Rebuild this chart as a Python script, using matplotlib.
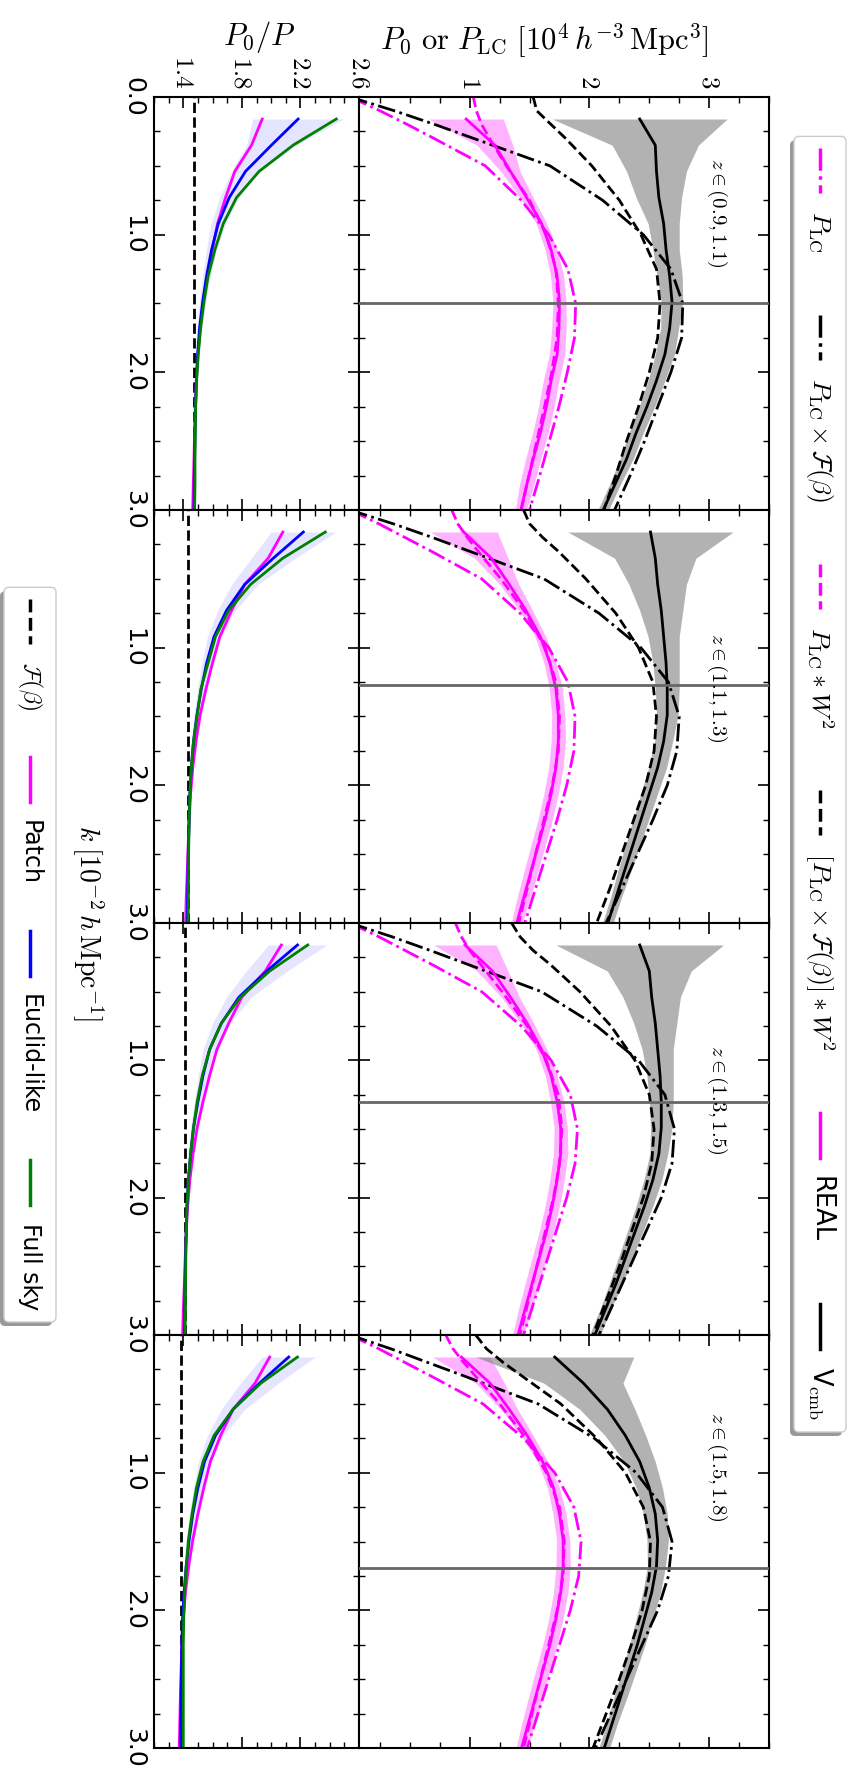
import numpy as np
import matplotlib
matplotlib.use('Agg')
import matplotlib.pyplot as plt
from matplotlib.lines import Line2D
from matplotlib.patches import FancyBboxPatch
from matplotlib.transforms import Affine2D
from matplotlib.ticker import MultipleLocator, FixedLocator

plt.rcParams['mathtext.fontset'] = 'cm'
plt.rcParams['font.family'] = ['DejaVu Sans']

W, H = 856, 1776

z_bins = [r'$z\in(0.9,1.1)$', r'$z\in(1.1,1.3)$', r'$z\in(1.3,1.5)$', r'$z\in(1.5,1.8)$']
z_text_y = [0.72, 0.57, 0.57, 0.68]
k_cut = [1.50, 1.27, 1.30, 1.69]

# theory curves, k in 1e-2 h/Mpc, P in 1e4 (Mpc/h)^3
k_model = [0.0, 0.1, 0.2, 0.3, 0.5, 0.75, 1.0, 1.25, 1.5, 1.75, 2.0, 2.25, 2.5, 2.75, 3.0]
plc = [
    [0.0, 0.25, 0.48, 0.70, 1.13, 1.43, 1.66, 1.82, 1.885, 1.875, 1.815, 1.745, 1.665, 1.585, 1.50],
    [0.0, 0.24, 0.46, 0.68, 1.10, 1.42, 1.66, 1.82, 1.88, 1.87, 1.81, 1.73, 1.64, 1.55, 1.46],
    [0.0, 0.24, 0.46, 0.68, 1.10, 1.43, 1.68, 1.84, 1.90, 1.88, 1.81, 1.72, 1.63, 1.54, 1.45],
    [0.0, 0.24, 0.46, 0.68, 1.11, 1.45, 1.71, 1.87, 1.93, 1.91, 1.84, 1.75, 1.66, 1.57, 1.48],
]
plc_f = [
    [0.0, 0.37, 0.71, 1.03, 1.67, 2.11, 2.45, 2.68, 2.78, 2.77, 2.68, 2.57, 2.46, 2.34, 2.21],
    [0.0, 0.36, 0.69, 1.00, 1.62, 2.08, 2.43, 2.66, 2.75, 2.73, 2.65, 2.53, 2.40, 2.27, 2.14],
    [0.0, 0.35, 0.67, 0.98, 1.60, 2.06, 2.41, 2.63, 2.71, 2.69, 2.60, 2.47, 2.34, 2.21, 2.08],
    [0.0, 0.34, 0.65, 0.96, 1.57, 2.04, 2.39, 2.61, 2.69, 2.66, 2.57, 2.44, 2.31, 2.18, 2.05],
]
plc_w = [
    [1.03, 1.055, 1.10, 1.165, 1.305, 1.50, 1.64, 1.72, 1.74, 1.73, 1.685, 1.625, 1.56, 1.495, 1.43],
    [0.85, 0.90, 0.98, 1.07, 1.26, 1.47, 1.63, 1.72, 1.75, 1.74, 1.69, 1.62, 1.55, 1.48, 1.41],
    [0.88, 0.93, 1.00, 1.09, 1.27, 1.48, 1.64, 1.74, 1.77, 1.75, 1.70, 1.63, 1.56, 1.49, 1.42],
    [0.80, 0.86, 0.95, 1.05, 1.25, 1.47, 1.64, 1.75, 1.79, 1.78, 1.73, 1.66, 1.59, 1.52, 1.45],
]
plc_fw = [
    [1.53, 1.56, 1.68, 1.80, 2.02, 2.25, 2.43, 2.56, 2.59, 2.57, 2.50, 2.41, 2.31, 2.22, 2.12],
    [1.45, 1.50, 1.61, 1.74, 1.97, 2.22, 2.41, 2.53, 2.56, 2.54, 2.47, 2.37, 2.27, 2.17, 2.06],
    [1.35, 1.42, 1.53, 1.67, 1.92, 2.18, 2.38, 2.50, 2.54, 2.52, 2.45, 2.35, 2.25, 2.14, 2.03],
    [1.05, 1.14, 1.28, 1.44, 1.76, 2.06, 2.30, 2.45, 2.51, 2.50, 2.44, 2.35, 2.25, 2.14, 2.03],
]

# measured spectra on the k bins
k_bins = [0.16, 0.35, 0.54, 0.73, 0.92, 1.11, 1.30, 1.49, 1.68, 1.87, 2.06, 2.25, 2.44, 2.63, 2.82, 3.01]
real = [
    [0.97, 1.21, 1.34, 1.475, 1.60, 1.68, 1.73, 1.75, 1.745, 1.73, 1.68, 1.64, 1.59, 1.53, 1.475, 1.425],
    [0.95, 1.18, 1.33, 1.47, 1.59, 1.67, 1.72, 1.74, 1.74, 1.72, 1.68, 1.63, 1.57, 1.51, 1.45, 1.39],
    [0.96, 1.19, 1.34, 1.48, 1.60, 1.68, 1.73, 1.76, 1.76, 1.73, 1.69, 1.64, 1.58, 1.52, 1.46, 1.40],
    [0.93, 1.17, 1.33, 1.48, 1.61, 1.70, 1.75, 1.78, 1.78, 1.76, 1.72, 1.67, 1.61, 1.55, 1.49, 1.43],
]
real_err = [
    [0.31, 0.15, 0.08, 0.055, 0.045, 0.05, 0.055, 0.055, 0.06, 0.065, 0.065, 0.065, 0.065, 0.063, 0.06, 0.045],
    [0.28, 0.14, 0.08, 0.055, 0.045, 0.05, 0.055, 0.055, 0.06, 0.06, 0.06, 0.06, 0.06, 0.058, 0.055, 0.045],
    [0.26, 0.13, 0.075, 0.055, 0.045, 0.05, 0.055, 0.055, 0.06, 0.06, 0.06, 0.06, 0.06, 0.058, 0.055, 0.045],
    [0.24, 0.12, 0.07, 0.05, 0.045, 0.05, 0.055, 0.055, 0.06, 0.06, 0.06, 0.06, 0.06, 0.058, 0.055, 0.045],
]
vcmb = [
    [2.42, 2.55, 2.56, 2.58, 2.62, 2.64, 2.67, 2.69, 2.67, 2.63, 2.56, 2.48, 2.39, 2.31, 2.21, 2.11],
    [2.51, 2.55, 2.57, 2.60, 2.62, 2.64, 2.65, 2.65, 2.62, 2.57, 2.50, 2.43, 2.36, 2.29, 2.22, 2.15],
    [2.42, 2.50, 2.52, 2.55, 2.57, 2.59, 2.60, 2.60, 2.58, 2.53, 2.46, 2.38, 2.30, 2.22, 2.13, 2.04],
    [1.71, 1.95, 2.15, 2.30, 2.42, 2.50, 2.55, 2.57, 2.56, 2.52, 2.46, 2.40, 2.33, 2.26, 2.19, 2.12],
]
vcmb_err = [
    [0.73, 0.36, 0.25, 0.19, 0.13, 0.11, 0.105, 0.09, 0.075, 0.08, 0.07, 0.065, 0.06, 0.055, 0.045, 0.045],
    [0.69, 0.34, 0.24, 0.18, 0.13, 0.11, 0.10, 0.09, 0.075, 0.075, 0.07, 0.065, 0.06, 0.055, 0.045, 0.045],
    [0.70, 0.35, 0.24, 0.18, 0.13, 0.11, 0.10, 0.09, 0.075, 0.075, 0.07, 0.065, 0.06, 0.055, 0.045, 0.045],
    [0.66, 0.33, 0.23, 0.17, 0.13, 0.11, 0.10, 0.09, 0.075, 0.075, 0.07, 0.065, 0.06, 0.055, 0.045, 0.045],
]

# P0/P ratios
ratio_f = [1.475, 1.43, 1.41, 1.385]
ratio_patch = [
    [1.939, 1.866, 1.752, 1.689, 1.634, 1.598, 1.564, 1.536, 1.516, 1.50, 1.489, 1.482, 1.477, 1.473, 1.468, 1.464],
    [2.08, 1.98, 1.82, 1.73, 1.65, 1.60, 1.555, 1.515, 1.487, 1.465, 1.45, 1.44, 1.433, 1.427, 1.42, 1.415],
    [2.07, 1.96, 1.80, 1.71, 1.63, 1.58, 1.535, 1.495, 1.467, 1.445, 1.43, 1.42, 1.413, 1.407, 1.40, 1.395],
    [1.99, 1.89, 1.74, 1.655, 1.585, 1.54, 1.50, 1.465, 1.437, 1.415, 1.40, 1.39, 1.385, 1.38, 1.376, 1.372],
]
ratio_euclid = [
    [2.184, 2.002, 1.825, 1.714, 1.639, 1.593, 1.559, 1.532, 1.511, 1.498, 1.489, 1.484, 1.48, 1.477, 1.475, 1.473],
    [2.22, 2.015, 1.82, 1.695, 1.61, 1.56, 1.523, 1.493, 1.47, 1.455, 1.445, 1.44, 1.435, 1.432, 1.43, 1.428],
    [2.18, 1.97, 1.78, 1.66, 1.58, 1.535, 1.50, 1.47, 1.45, 1.435, 1.425, 1.42, 1.415, 1.412, 1.41, 1.408],
    [2.12, 1.92, 1.74, 1.62, 1.545, 1.50, 1.465, 1.44, 1.42, 1.405, 1.395, 1.39, 1.387, 1.385, 1.383, 1.382],
]
ratio_euclid_err = [
    [0.31, 0.17, 0.095, 0.065, 0.05, 0.035, 0.027, 0.022, 0.017, 0.013, 0.011, 0.01, 0.009, 0.008, 0.008, 0.008],
    [0.22, 0.15, 0.09, 0.06, 0.045, 0.033, 0.025, 0.02, 0.016, 0.013, 0.011, 0.01, 0.009, 0.008, 0.008, 0.008],
    [0.20, 0.14, 0.085, 0.06, 0.045, 0.033, 0.025, 0.02, 0.016, 0.013, 0.011, 0.01, 0.009, 0.008, 0.008, 0.008],
    [0.18, 0.13, 0.08, 0.055, 0.042, 0.03, 0.024, 0.02, 0.016, 0.013, 0.011, 0.01, 0.009, 0.008, 0.008, 0.008],
]
ratio_full = [
    [2.445, 2.15, 1.918, 1.764, 1.673, 1.616, 1.57, 1.541, 1.518, 1.502, 1.491, 1.484, 1.482, 1.48, 1.48, 1.477],
    [2.37, 2.08, 1.86, 1.71, 1.62, 1.57, 1.52, 1.495, 1.47, 1.455, 1.445, 1.44, 1.437, 1.435, 1.435, 1.432],
    [2.25, 1.99, 1.79, 1.66, 1.58, 1.53, 1.495, 1.47, 1.45, 1.435, 1.425, 1.42, 1.417, 1.415, 1.415, 1.412],
    [2.18, 1.93, 1.74, 1.61, 1.535, 1.49, 1.46, 1.435, 1.42, 1.41, 1.403, 1.40, 1.40, 1.40, 1.40, 1.40],
]

MAG = '#ff00ff'

fig = plt.figure(figsize=(W / 100, H / 100), dpi=100)
px = Affine2D().scale(1 / fig.dpi) + fig.dpi_scale_trans   # pixel coords, y up

rows = [97, 510, 923, 1335, 1748]
x_ratio = (154, 359)
x_pow = (359, 769)


def style_axis(ax):
    ax.tick_params(which='both', direction='in', top=True, bottom=True, left=True, right=True,
                   labelbottom=False, labelleft=False, labeltop=False, labelright=False)
    ax.tick_params(which='major', length=8, width=1.2)
    ax.tick_params(which='minor', length=4.5, width=1.0)
    for s in ax.spines.values():
        s.set_linewidth(1.5)
    ax.set_ylim(3.0, 0.0)
    ax.yaxis.set_major_locator(FixedLocator([0, 1, 2, 3]))
    ax.yaxis.set_minor_locator(MultipleLocator(0.25))


for i in range(4):
    y0, y1 = rows[i], rows[i + 1]
    b = 1 - y1 / H
    h = (y1 - y0) / H
    axr = fig.add_axes([x_ratio[0] / W, b, (x_ratio[1] - x_ratio[0]) / W, h])
    axp = fig.add_axes([x_pow[0] / W, b, (x_pow[1] - x_pow[0]) / W, h])
    style_axis(axr)
    style_axis(axp)

    # ratio panel
    lo = np.array(ratio_euclid[i]) - np.array(ratio_euclid_err[i])
    hi = np.array(ratio_euclid[i]) + np.array(ratio_euclid_err[i])
    axr.fill_betweenx(k_bins, lo, hi, color='blue', alpha=0.1, lw=0)
    axr.axvline(ratio_f[i], color='k', ls='--', lw=2)
    axr.plot(ratio_patch[i], k_bins, color=MAG, lw=2)
    axr.plot(ratio_euclid[i], k_bins, color='blue', lw=2)
    axr.plot(ratio_full[i], k_bins, color='green', lw=2)
    axr.set_xlim(1.2, 2.6)
    axr.xaxis.set_major_locator(FixedLocator([1.4, 1.8, 2.2, 2.6]))
    axr.xaxis.set_minor_locator(MultipleLocator(0.1))
    axr.tick_params(axis='y', labelleft=True, labelsize=18, labelrotation=270, pad=6)
    labs = ['0.0', '1.0', '2.0', '3.0'] if i == 0 else ['', '1.0', '2.0', '3.0']
    axr.set_yticklabels(labs, va='center')

    # power spectrum panel
    r = np.array(real[i]); re = np.array(real_err[i])
    v = np.array(vcmb[i]); ve = np.array(vcmb_err[i])
    axp.fill_betweenx(k_bins, r - re, r + re, color=MAG, alpha=0.3, lw=0)
    axp.fill_betweenx(k_bins, v - ve, v + ve, color='gray', alpha=0.6, lw=0)
    axp.plot(plc[i], k_model, color=MAG, ls='-.', lw=2)
    axp.plot(plc_f[i], k_model, color='k', ls='-.', lw=2)
    axp.plot(plc_w[i], k_model, color=MAG, ls='--', lw=2)
    axp.plot(plc_fw[i], k_model, color='k', ls='--', lw=2)
    axp.plot(real[i], k_bins, color=MAG, lw=2)
    axp.plot(vcmb[i], k_bins, color='k', lw=2)
    axp.axhline(k_cut[i], color='0.4', lw=2, zorder=3)
    axp.set_xlim(0.075, 3.5)
    axp.xaxis.set_major_locator(FixedLocator([1, 2, 3]))
    axp.xaxis.set_minor_locator(MultipleLocator(0.25))
    axp.text(0.873, z_text_y[i], z_bins[i], transform=axp.transAxes, rotation=270,
             ha='center', va='center', fontsize=15)

    if i == 0:
        axr.tick_params(axis='x', labeltop=True, labelsize=18, labelrotation=270, pad=6)
        axr.set_xticklabels([r'$1.4$', r'$1.8$', r'$2.2$', r'$2.6$'], ha='center')
        axp.tick_params(axis='x', labeltop=True, labelsize=18, labelrotation=270, pad=6)
        axp.set_xticklabels([r'$1$', r'$2$', r'$3$'], ha='center')

fig.text(259, H - 45, r'$P_0/P$', transform=px, ha='center', va='baseline', fontsize=22)
fig.text(544, H - 50, r'$P_0\ {\rm or}\ P_{\rm LC}\ [10^4\,h^{-3}\,{\rm Mpc}^3]$', transform=px,
         ha='center', va='baseline', fontsize=22)
fig.text(88, H - 923, r'$k\;[10^{-2}\,h\,{\rm Mpc}^{-1}]$', transform=px, rotation=270,
         ha='center', va='center', fontsize=20)


def vertical_legend(xc, y_end, entries, size, hlen=45, hpad=18, cgap=46, pad=12, box_w=52):
    rend = fig.canvas.get_renderer()
    lengths = []
    for _, label in entries:
        t = fig.text(0, 0, label, rotation=270, fontsize=size)
        lengths.append(t.get_window_extent(rend).height)
        t.remove()
    total = 2 * pad + len(entries) * (hlen + hpad) + sum(lengths) + (len(entries) - 1) * cgap
    top = y_end - total
    shadow = FancyBboxPatch((xc - box_w / 2 - 4, H - y_end - 4), box_w, total,
                            boxstyle='round,pad=0,rounding_size=5', transform=px,
                            fc='0.6', ec='none', zorder=9)
    box = FancyBboxPatch((xc - box_w / 2, H - y_end), box_w, total,
                         boxstyle='round,pad=0,rounding_size=5', transform=px,
                         fc='white', ec='0.8', lw=1, zorder=10)
    fig.add_artist(shadow)
    fig.add_artist(box)
    y = top + pad
    for (style, label), L in zip(entries, lengths):
        fig.add_artist(Line2D([xc, xc], [H - y, H - y - hlen], transform=px, zorder=11, **style))
        y += hlen + hpad
        fig.text(xc, H - y, label, transform=px, rotation=270, ha='center', va='top',
                 fontsize=size, zorder=11)
        y += L + cgap


vertical_legend(820, 1432, [
    (dict(color=MAG, ls='-.', lw=2.5), r'$P_{\rm LC}$'),
    (dict(color='k', ls='-.', lw=2.5), r'$P_{\rm LC}\times\mathcal{F}(\beta)$'),
    (dict(color=MAG, ls='--', lw=2.5), r'$P_{\rm LC}\ast W^2$'),
    (dict(color='k', ls='--', lw=2.5), r'$[P_{\rm LC}\times\mathcal{F}(\beta)]\ast W^2$'),
    (dict(color=MAG, ls='-', lw=2.5), 'REAL'),
    (dict(color='k', ls='-', lw=2.5), r'V$_{\rm cmb}$'),
], 18.5, cgap=62)

vertical_legend(30, 1322, [
    (dict(color='k', ls='--', lw=2.5), r'$\mathcal{F}(\beta)$'),
    (dict(color=MAG, ls='-', lw=2.5), 'Patch'),
    (dict(color='blue', ls='-', lw=2.5), 'Euclid-like'),
    (dict(color='green', ls='-', lw=2.5), 'Full sky'),
], 17)

fig.savefig('out.png', dpi=100)
